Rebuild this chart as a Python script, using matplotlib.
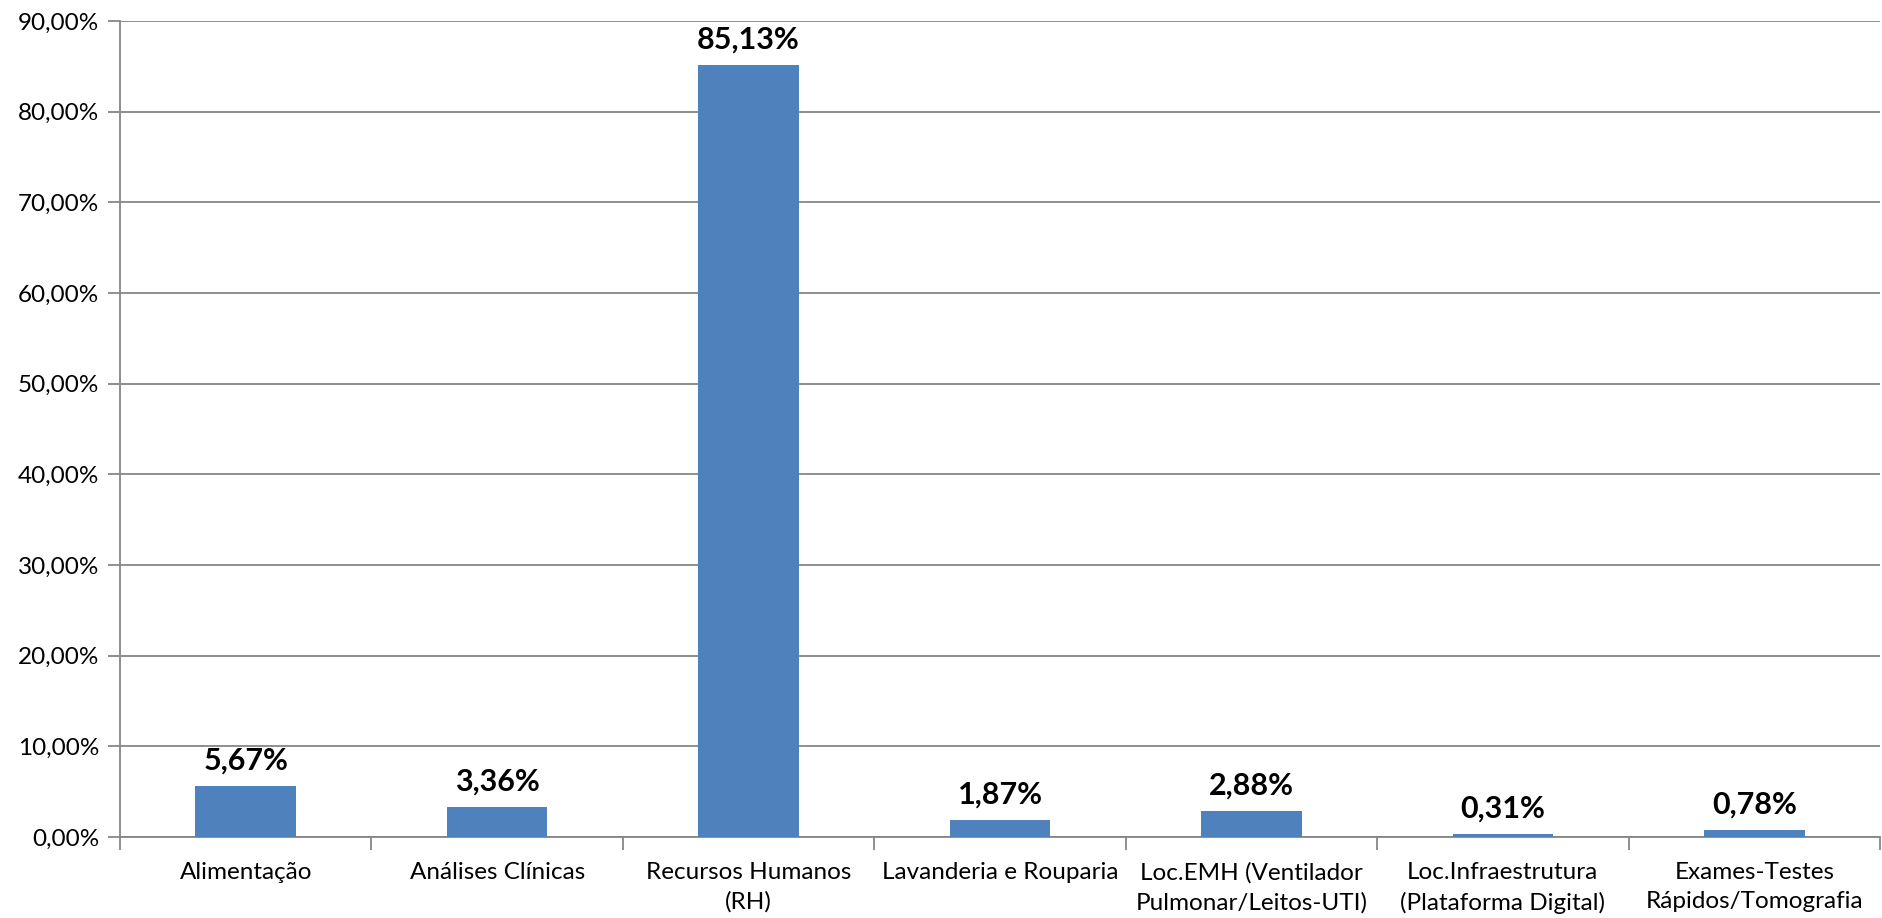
import matplotlib
matplotlib.use("Agg")
import matplotlib.pyplot as plt
from matplotlib.ticker import FuncFormatter

categories = ["Alimentação", "Análises Clínicas", "Recursos Humanos\n(RH)",
              "Lavanderia e Rouparia", "Loc.EMH (Ventilador\nPulmonar/Leitos-UTI)",
              "Loc.Infraestrutura\n(Plataforma Digital)", "Exames-Testes\nRápidos/Tomografia"]
values = [5.67, 3.36, 85.13, 1.87, 2.88, 0.31, 0.78]
yticks = [0, 10, 20, 30, 40, 50, 60, 70, 80, 90]

plt.rcParams['font.family'] = ['Lato', 'DejaVu Sans']

fig = plt.figure(figsize=(18.82, 9.18), dpi=100)
ax = fig.add_axes([120/1882, 1-837/918, 1760/1882, (837-21)/918])

x = list(range(len(categories)))
ax.bar(x, values, width=0.4, color="#4F81BD", zorder=3)
for xi, v in zip(x, values):
    ax.annotate(f"{v:.2f}%".replace(".", ","), (xi, v), xytext=(0, 8),
                textcoords="offset points", ha="center", va="bottom",
                fontsize=22, fontweight="bold", color="black")

ax.set_xlim(-0.5, len(categories) - 0.5)
ax.set_ylim(0, 90)
ax.set_yticks(yticks)
ax.yaxis.set_major_formatter(FuncFormatter(lambda v, p: f"{v:.2f}%".replace(".", ",")))
ax.set_xticks(x)
ax.set_xticklabels(categories, fontsize=17.5, linespacing=1.48)
ax.set_xticks([i + 0.5 for i in range(-1, len(categories))], minor=True)
ax.tick_params(axis="x", which="major", length=0, pad=18)
ax.tick_params(axis="x", which="minor", length=9, color="#868686", width=1.3)
ax.tick_params(axis="y", length=9, color="#868686", width=1.3, labelsize=17.5, pad=6)
ax.grid(axis="y", color="#868686", linewidth=1.3, zorder=0)
for s in ["top", "right"]:
    ax.spines[s].set_visible(False)
for s in ["left", "bottom"]:
    ax.spines[s].set_color("#868686")
    ax.spines[s].set_linewidth(1.3)

fig.savefig("out.png", dpi=100)
